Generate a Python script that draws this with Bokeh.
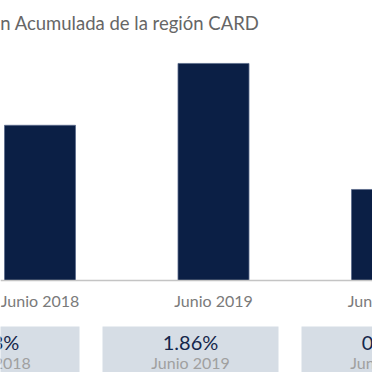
from bokeh.plotting import figure
from bokeh.models import Range1d, Label, Span
from bokeh.embed import file_html
from bokeh.resources import INLINE
from bokeh.core.properties import value

# ---- data ----
categories = ["Junio 2018", "Junio 2019", "Junio 2020"]
inflation = [1.33, 1.86, 0.78]
box_values = ["1.33%", "1.86%", "0.78%"]
box_labels = ["Junio 2018", "Junio 2019", "Junio 2020"]
title_text = "Inflación Acumulada de la región CARD"

# ---- layout constants (pixels) ----
W = H = 372
PX_PER_PCT = 116.7      # vertical scale
PX_PER_BAR = 173.5      # spacing between bars
PX_PER_BOX = 199.0      # spacing between boxes
BASE_Y = 280            # baseline from figure top
BAR0_X = 39.5           # first bar centre from figure left
BOX0_X = -9.0           # first box centre from figure left
TXT_SHIFT = 7           # text baseline correction (px)

def px(v):
    return v / PX_PER_PCT

x_start = -BAR0_X / PX_PER_BAR
x_end = (W - BAR0_X) / PX_PER_BAR
y_end = BASE_Y / PX_PER_PCT
y_start = -(H - BASE_Y) / PX_PER_PCT

p = figure(width=W, height=H,
           x_range=Range1d(x_start, x_end), y_range=Range1d(y_start, y_end),
           output_backend="svg", toolbar_location=None,
           x_axis_location=None, y_axis_location=None,
           min_border=0, min_border_left=0, min_border_right=0,
           min_border_top=0, min_border_bottom=0,
           outline_line_color=None, background_fill_color="white",
           border_fill_color="white")
p.grid.visible = False
p.extra_x_ranges = {"boxes": Range1d(-BOX0_X / PX_PER_BOX, (W - BOX0_X) / PX_PER_BOX)}

idx = list(range(len(categories)))
FONT = value("Lato")

# bars
p.vbar(x=idx, top=inflation, bottom=0, width=71 / PX_PER_BAR,
       fill_color="#0b1f45", line_color="#5a6b8c", line_width=0.8)

# baseline
p.add_layout(Span(location=0, dimension="width", line_color="#c4c4c4", line_width=1.5))

# category labels
p.text(x=idx, y=[px(-27 + TXT_SHIFT)] * len(idx), text=categories,
       text_align="center", text_baseline="alphabetic",
       text_font=FONT, text_font_size="16px", text_color="#7a7a7a")

# boxes
bw = 88 / PX_PER_BOX
p.quad(left=[i - bw for i in idx], right=[i + bw for i in idx],
       top=[px(-46)] * len(idx), bottom=[px(-96)] * len(idx),
       fill_color="#d6dde5", line_color=None, x_range_name="boxes")
p.text(x=idx, y=[px(-68 + TXT_SHIFT)] * len(idx), text=box_values, x_range_name="boxes",
       text_align="center", text_baseline="alphabetic",
       text_font=FONT, text_font_size="20px", text_color="#14264b")
p.text(x=idx, y=[px(-89 + TXT_SHIFT)] * len(idx), text=box_labels, x_range_name="boxes",
       text_align="center", text_baseline="alphabetic",
       text_font=FONT, text_font_size="16px", text_color="#a0a0a0")

# title (cropped at the left like the reference)
p.add_layout(Label(x=259, y=H - 29 + TXT_SHIFT, x_units="screen", y_units="screen",
                   text=title_text, text_align="right", text_baseline="alphabetic",
                   text_font="Lato", text_font_size="18.5px", text_color="#666666"))

open("out.html", "w").write(file_html(p, INLINE))
